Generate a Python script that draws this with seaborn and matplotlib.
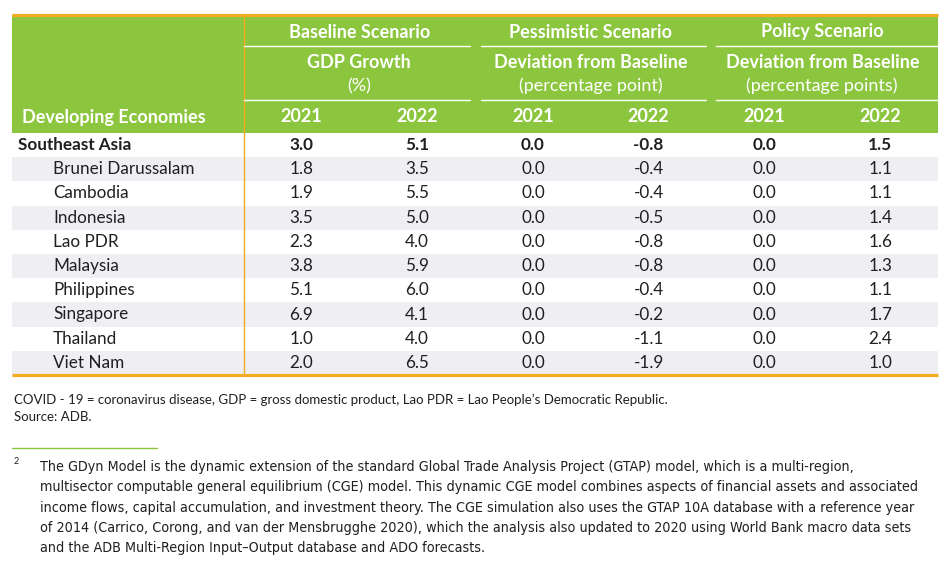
import matplotlib
matplotlib.use("Agg")
import matplotlib.pyplot as plt
import seaborn as sns
import numpy as np
import pandas as pd

# ---------------- data ----------------
economies = ["Southeast Asia", "Brunei Darussalam", "Cambodia", "Indonesia", "Lao PDR",
             "Malaysia", "Philippines", "Singapore", "Thailand", "Viet Nam"]
baseline_2021 = [3.0, 1.8, 1.9, 3.5, 2.3, 3.8, 5.1, 6.9, 1.0, 2.0]
baseline_2022 = [5.1, 3.5, 5.5, 5.0, 4.0, 5.9, 6.0, 4.1, 4.0, 6.5]
pessimistic_2021 = [0.0, 0.0, 0.0, 0.0, 0.0, 0.0, 0.0, 0.0, 0.0, 0.0]
pessimistic_2022 = [-0.8, -0.4, -0.4, -0.5, -0.8, -0.8, -0.4, -0.2, -1.1, -1.9]
policy_2021 = [0.0, 0.0, 0.0, 0.0, 0.0, 0.0, 0.0, 0.0, 0.0, 0.0]
policy_2022 = [1.5, 1.1, 1.1, 1.4, 1.6, 1.3, 1.1, 1.7, 2.4, 1.0]

scenarios = ["Baseline Scenario", "Pessimistic Scenario", "Policy Scenario"]
measures = ["GDP Growth", "Deviation from Baseline", "Deviation from Baseline"]
units = ["(%)", "(percentage point)", "(percentage points)"]
years = ["2021", "2022"]
row_header = "Developing Economies"

note_lines = ["COVID - 19 = coronavirus disease, GDP = gross domestic product, Lao PDR = Lao People\u2019s Democratic Republic.",
              "Source: ADB."]
footnote_mark = "2"
footnote_lines = [
    "The GDyn Model is the dynamic extension of the standard Global Trade Analysis Project (GTAP) model, which is a multi-region,",
    "multisector computable general equilibrium (CGE) model. This dynamic CGE model combines aspects of financial assets and associated",
    "income flows, capital accumulation, and investment theory. The CGE simulation also uses the GTAP 10A database with a reference year",
    "of 2014 (Carrico, Corong, and van der Mensbrugghe 2020), which the analysis also updated to 2020 using World Bank macro data sets",
    "and the ADB Multi-Region Input\u2013Output database and ADO forecasts.",
]

# ---------------- style ----------------
sns.set_theme(style="white")
plt.rcParams["font.family"] = ["Lato", "DejaVu Sans"]

GREEN = "#8cc63f"
ORANGE = "#f3ac1f"
BAND = "#efeff3"
TXT = "#231f20"

W, H = 951, 568
fig = plt.figure(figsize=(W / 100, H / 100), dpi=100)
ax = fig.add_axes([0, 0, 1, 1])
ax.set_xlim(0, W)
ax.set_ylim(H, 0)
ax.axis("off")

left, right = 12, 938
split = 243.5
top, head_bot = 15, 133
row_h = 24.2

# header background
ax.fill_between([left, right], top, head_bot, color=GREEN, lw=0, zorder=1)

cols = [baseline_2021, baseline_2022, pessimistic_2021, pessimistic_2022, policy_2021, policy_2022]
df = pd.DataFrame({"economy": economies, "row": np.arange(len(economies))})
df["band"] = df["row"] % 2 == 1
n = len(economies)
bottom = head_bot + n * row_h

# banding
band_rows = df[df["band"]]
ax.barh(head_bot + band_rows["row"] * row_h + row_h / 2, right - left, left=left,
        height=row_h, color=BAND, lw=0, zorder=1)

# lines
ax.plot([left, right], [top, top], color=ORANGE, lw=2.3, zorder=3, solid_capstyle="butt")
ax.plot([left, right], [bottom, bottom], color=ORANGE, lw=2.3, zorder=3, solid_capstyle="butt")
ax.plot([split, split], [top, bottom], color=ORANGE, lw=1.0, zorder=3)

col_w = (right - split) / 6
col_x = [split + col_w * (i + 0.5) for i in range(6)]
groups = [(244, 470), (481, 706), (716, 938)]
for (g0, g1) in groups:
    for yy in (46, 100):
        ax.plot([g0, g1], [yy, yy], color="white", lw=1.0, zorder=3)

# header texts
hfs = 13
for gi, (g0, g1) in enumerate(groups):
    cx = (col_x[2 * gi] + col_x[2 * gi + 1]) / 2
    ax.text(cx, 32, scenarios[gi], color="white", fontsize=hfs, fontweight="bold",
            ha="center", va="center", zorder=4)
    ax.text(cx, 63, measures[gi], color="white", fontsize=hfs, fontweight="bold",
            ha="center", va="center", zorder=4)
    ax.text(cx, 86, units[gi], color="white", fontsize=13,
            ha="center", va="center", zorder=4)
    for yi in range(2):
        ax.text(col_x[2 * gi + yi], 117, years[yi], color="white", fontsize=hfs,
                fontweight="bold", ha="center", va="center", zorder=4)
ax.text(22, 117, row_header, color="white", fontsize=hfs, fontweight="bold",
        ha="left", va="center", zorder=4)

# body
bfs = 12.3
for r in range(n):
    y = head_bot + r * row_h + row_h / 2
    bold = r == 0
    ax.text(18 if bold else 53, y, economies[r], color=TXT, fontsize=bfs,
            fontweight="bold" if bold else "normal", ha="left", va="center", zorder=4)
    for c in range(6):
        ax.text(col_x[c], y, f"{cols[c][r]:.1f}", color=TXT, fontsize=bfs,
                fontweight="bold" if bold else "normal", ha="center", va="center", zorder=4)

# notes
for i, line in enumerate(note_lines):
    ax.text(14, 400 + i * 17, line, color=TXT, fontsize=9.5, ha="left", va="center")

ax.plot([12, 157], [448, 448], color=GREEN, lw=1.0)
ax.text(14, 462, footnote_mark, color=TXT, fontsize=6.5, ha="left", va="center")
for i, line in enumerate(footnote_lines):
    ax.text(40, 467 + i * 20.3, line, color=TXT, fontsize=10.3, ha="left", va="center",
            family=["Liberation Sans Narrow", "DejaVu Sans"], fontstretch="condensed")

fig.savefig("out.png", dpi=100)
